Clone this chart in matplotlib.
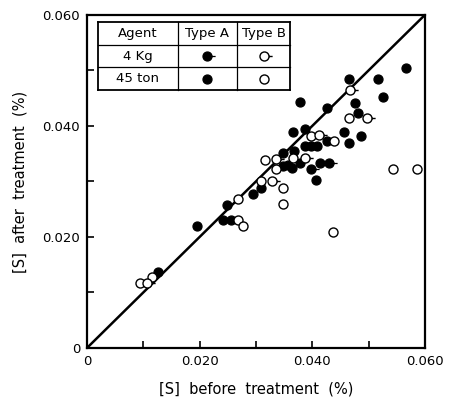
import matplotlib
matplotlib.use("Agg")
import matplotlib.pyplot as plt
from matplotlib.path import Path
from matplotlib.ticker import MultipleLocator, FixedFormatter, FixedLocator

# sulphur content before / after treatment (%)
# type A agent, 45 ton scale
a45_before = [0.0566, 0.0465, 0.0517, 0.0525, 0.0378, 0.0476, 0.0426, 0.0481,
              0.0366, 0.0387, 0.0456, 0.0486, 0.0465, 0.0387, 0.0398, 0.0408,
              0.0348, 0.0367, 0.0348, 0.0357, 0.0364, 0.0378, 0.0414, 0.0406,
              0.0309, 0.0295, 0.0249, 0.0241, 0.0256, 0.0195, 0.0126]
a45_after = [0.0504, 0.0484, 0.0484, 0.0452, 0.0443, 0.0441, 0.0432, 0.0423,
             0.0390, 0.0394, 0.0390, 0.0381, 0.0370, 0.0363, 0.0363, 0.0363,
             0.0352, 0.0354, 0.0327, 0.0329, 0.0325, 0.0333, 0.0333, 0.0302,
             0.0289, 0.0278, 0.0258, 0.0230, 0.0230, 0.0219, 0.0137]

# type A agent, 4 Kg scale
a4_before = [0.0426, 0.0430, 0.0398]
a4_after = [0.0372, 0.0333, 0.0322]

# type B agent, 45 ton scale
b45_before = [0.0465, 0.0398, 0.0438, 0.0316, 0.0366, 0.0336, 0.0309, 0.0348,
              0.0268, 0.0348, 0.0268, 0.0277, 0.0437, 0.0543, 0.0586, 0.0094,
              0.0115]
b45_after = [0.0414, 0.0381, 0.0372, 0.0338, 0.0342, 0.0322, 0.0300, 0.0289,
             0.0269, 0.0260, 0.0230, 0.0219, 0.0208, 0.0322, 0.0322, 0.0117,
             0.0128]

# type B agent, 4 Kg scale
b4_before = [0.0467, 0.0497, 0.0412, 0.0336, 0.0387, 0.0328, 0.0107]
b4_after = [0.0464, 0.0414, 0.0383, 0.0340, 0.0343, 0.0300, 0.0117]

tick_vals = [0, 0.02, 0.04, 0.06]
tick_labels = ["0", "0.020", "0.040", "0.060"]

# circle with a short tail to the right marks the 4 Kg runs
tail_len = 1.8
tailed = Path.make_compound_path(
    Path.unit_circle(),
    Path([(1.0, 0.0), (tail_len, 0.0)], [Path.MOVETO, Path.LINETO]))

MS = 6.5
MS_TAIL = MS * tail_len
filled = dict(linestyle="none", color="black", markerfacecolor="black",
              markeredgecolor="black", markeredgewidth=0.9)
hollow = dict(linestyle="none", color="black", markerfacecolor="white",
              markeredgecolor="black", markeredgewidth=1.0)

plt.rcParams["font.family"] = ["DejaVu Sans"]

fig = plt.figure(figsize=(4.51, 4.05), dpi=100)
ax = fig.add_axes([0.193, 0.141, 0.749, 0.822])

ax.plot([0, 0.06], [0, 0.06], color="black", linewidth=1.8, zorder=1)

ax.plot(a45_before, a45_after, marker="o", markersize=MS, zorder=3, **filled)
ax.plot(a4_before, a4_after, marker=tailed, markersize=MS_TAIL, zorder=3, **filled)
ax.plot(b45_before, b45_after, marker="o", markersize=MS, zorder=3, **hollow)
ax.plot(b4_before, b4_after, marker=tailed, markersize=MS_TAIL, zorder=3, **hollow)

ax.set_xlim(0, 0.06)
ax.set_ylim(0, 0.06)
for axis in (ax.xaxis, ax.yaxis):
    axis.set_major_locator(FixedLocator(tick_vals))
    axis.set_major_formatter(FixedFormatter(tick_labels))
    axis.set_minor_locator(MultipleLocator(0.01))
ax.tick_params(which="both", direction="in", length=5, width=1.2,
               labelsize=9.5, pad=5)
for s in ax.spines.values():
    s.set_linewidth(1.6)

ax.set_xlabel("[S]  before  treatment  (%)", fontsize=10.5, labelpad=10)
ax.set_ylabel("[S]  after  treatment  (%)", fontsize=10.5, labelpad=11)

# legend table in the upper left corner
tx = [0.0325, 0.269, 0.444, 0.601]
ty = [0.979, 0.910, 0.843, 0.774]
tr = ax.transAxes
for i, y in enumerate(ty):
    lw = 1.3 if i in (0, len(ty) - 1) else 0.9
    ax.plot([tx[0], tx[-1]], [y, y], color="black", linewidth=lw,
            transform=tr, zorder=4)
for i, x in enumerate(tx):
    lw = 1.3 if i in (0, len(tx) - 1) else 0.9
    ax.plot([x, x], [ty[0], ty[-1]], color="black", linewidth=lw,
            transform=tr, zorder=4)

head = ["Agent", "Type A", "Type B"]
rows = ["4 Kg", "45 ton"]
for j, h in enumerate(head):
    ax.text((tx[j] + tx[j + 1]) / 2, (ty[0] + ty[1]) / 2, h, transform=tr,
            ha="center", va="center", fontsize=9.5)
for i, r in enumerate(rows):
    yc = (ty[i + 1] + ty[i + 2]) / 2
    ax.text((tx[0] + tx[1]) / 2, yc, r, transform=tr,
            ha="center", va="center", fontsize=9.5)
    mk = tailed if i == 0 else "o"
    ms = MS_TAIL if i == 0 else MS
    ax.plot([(tx[1] + tx[2]) / 2], [yc], marker=mk, markersize=ms,
            transform=tr, zorder=5, **filled)
    ax.plot([(tx[2] + tx[3]) / 2], [yc], marker=mk, markersize=ms,
            transform=tr, zorder=5, **hollow)

fig.savefig("out.png", dpi=100)
